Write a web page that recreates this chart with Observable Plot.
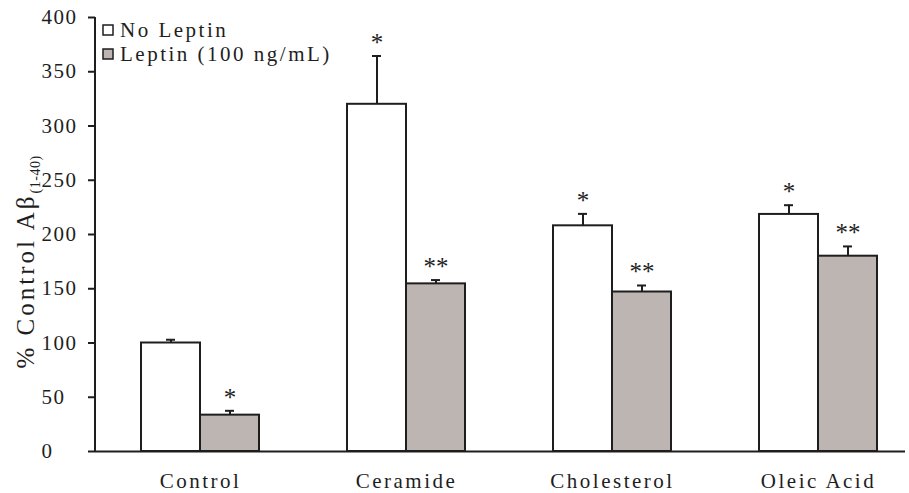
<!DOCTYPE html>
<html>
<head>
<meta charset="utf-8">
<script src="https://cdn.jsdelivr.net/npm/d3@7"></script>
<script src="https://cdn.jsdelivr.net/npm/@observablehq/plot@0.6"></script>
<style>
  html, body { margin: 0; padding: 0; background: #fff; }
  #chart svg { display: block; }
</style>
</head>
<body>
<div id="chart"></div>
<script>
// ---- data ----
const categories = ["Control", "Ceramide", "Cholesterol", "Oleic Acid"];
const seriesNames = ["No Leptin", "Leptin (100 ng/mL)"];
const noLeptin    = [100, 320, 208, 218.5];
const noLeptinErr = [3, 44.5, 11, 8.5];
const leptin      = [33.5, 154.5, 147, 180];
const leptinErr   = [4, 3.5, 6, 9];
const noLeptinSig = ["", "*", "*", "*"];
const leptinSig   = ["*", "**", "**", "**"];
const yTicks = [0, 50, 100, 150, 200, 250, 300, 350, 400];

const seriesFill = ["#ffffff", "#bdb5b1"];
const ink = "#1e1e1e";
const serif = "'Liberation Serif', 'DejaVu Serif', serif";

const rowsA = categories.map((c, i) => ({category: c, value: noLeptin[i], err: noLeptinErr[i], sig: noLeptinSig[i]}));
const rowsB = categories.map((c, i) => ({category: c, value: leptin[i], err: leptinErr[i], sig: leptinSig[i]}));

// layout constants
const W = 909, H = 493;
const mL = 95, mR = 4, mT = 17, mB = 42;
const pIn = 0.4272, pOut = 0.1796, align = 0.616;
const step = (W - mL - mR) / (categories.length - pIn + 2 * pOut);
const bw = step * (1 - pIn);
const half = bw / 2;
const q = bw / 4;      // centre offset of each bar from band centre
const cap = 4.5;       // half width of error cap

const plot = Plot.plot({
  width: W,
  height: H,
  marginLeft: mL,
  marginRight: mR,
  marginTop: mT,
  marginBottom: mB,
  style: {fontFamily: serif, color: ink, background: "#fff"},
  x: {type: "band", domain: categories, paddingInner: pIn, paddingOuter: pOut, align: align, label: null},
  y: {domain: [0, 400], label: null},
  marks: [
    Plot.barY(rowsA, {x: "category", y: "value", insetRight: half, fill: seriesFill[0], stroke: ink, strokeWidth: 2}),
    Plot.barY(rowsB, {x: "category", y: "value", insetLeft: half, fill: seriesFill[1], stroke: ink, strokeWidth: 2}),
    Plot.ruleX(rowsA, {x: "category", y1: "value", y2: d => d.value + d.err, dx: -q, stroke: ink, strokeWidth: 2}),
    Plot.ruleX(rowsB, {x: "category", y1: "value", y2: d => d.value + d.err, dx: q, stroke: ink, strokeWidth: 2}),
    Plot.tickY(rowsA, {x: "category", y: d => d.value + d.err, insetLeft: q - cap, insetRight: bw - q - cap, stroke: ink, strokeWidth: 2}),
    Plot.tickY(rowsB, {x: "category", y: d => d.value + d.err, insetLeft: bw - q - cap, insetRight: q - cap, stroke: ink, strokeWidth: 2}),
    Plot.text(rowsA, {x: "category", y: d => d.value + d.err, text: "sig", dx: -q, dy: -5, lineAnchor: "bottom", fontSize: 25, fill: ink, fontFamily: serif}),
    Plot.text(rowsB, {x: "category", y: d => d.value + d.err, text: "sig", dx: q, dy: -5, lineAnchor: "bottom", fontSize: 25, fill: ink, fontFamily: serif, style: "letter-spacing:3px"}),
    Plot.axisY({ticks: yTicks, tickSize: 7, tickPadding: 47, textAnchor: "start", fontSize: 21, stroke: ink, strokeWidth: 2, label: null}),
    Plot.axisX({tickSize: 0, tickPadding: 22, fontSize: 21, label: null}),
    Plot.ruleY([0], {stroke: ink, strokeWidth: 2})
  ]
});

document.getElementById("chart").appendChild(plot);

const svg = d3.select(plot);
// letter-spacing on axis text
svg.selectAll("g[aria-label='y-axis tick label'] text").style("letter-spacing", "1.5px");
svg.selectAll("g[aria-label='x-axis tick label'] text").style("letter-spacing", "2.5px");

// y axis line, from the plot's own y scale
const ys = plot.scale("y");
svg.append("line")
  .attr("x1", mL).attr("x2", mL)
  .attr("y1", ys.apply(0) + 1).attr("y2", ys.apply(400))
  .attr("stroke", ink).attr("stroke-width", 2);

// y-axis title with subscript
const yt = svg.append("text")
  .attr("transform", "translate(34,262) rotate(-90)")
  .attr("text-anchor", "middle")
  .attr("font-family", serif)
  .attr("font-size", 25)
  .attr("fill", ink)
  .style("letter-spacing", "3px");
yt.append("tspan").text("% Control A\u03B2");
yt.append("tspan").attr("font-size", 14).attr("dy", 6).style("letter-spacing", "0.5px").text("(1-40)");

// in-plot legend
const lg = svg.append("g")
  .attr("font-family", serif).attr("font-size", 21).attr("fill", ink)
  .attr("text-anchor", "start");
const legendY = [30, 54];
seriesNames.forEach((name, i) => {
  lg.append("rect")
    .attr("x", 103).attr("y", legendY[i] - 5).attr("width", 10).attr("height", 10)
    .attr("fill", seriesFill[i]).attr("stroke", ink).attr("stroke-width", 1.5);
  lg.append("text")
    .attr("x", 120).attr("y", legendY[i] + 7)
    .attr("text-anchor", "start")
    .style("letter-spacing", "2.5px")
    .text(name);
});
</script>
</body>
</html>
